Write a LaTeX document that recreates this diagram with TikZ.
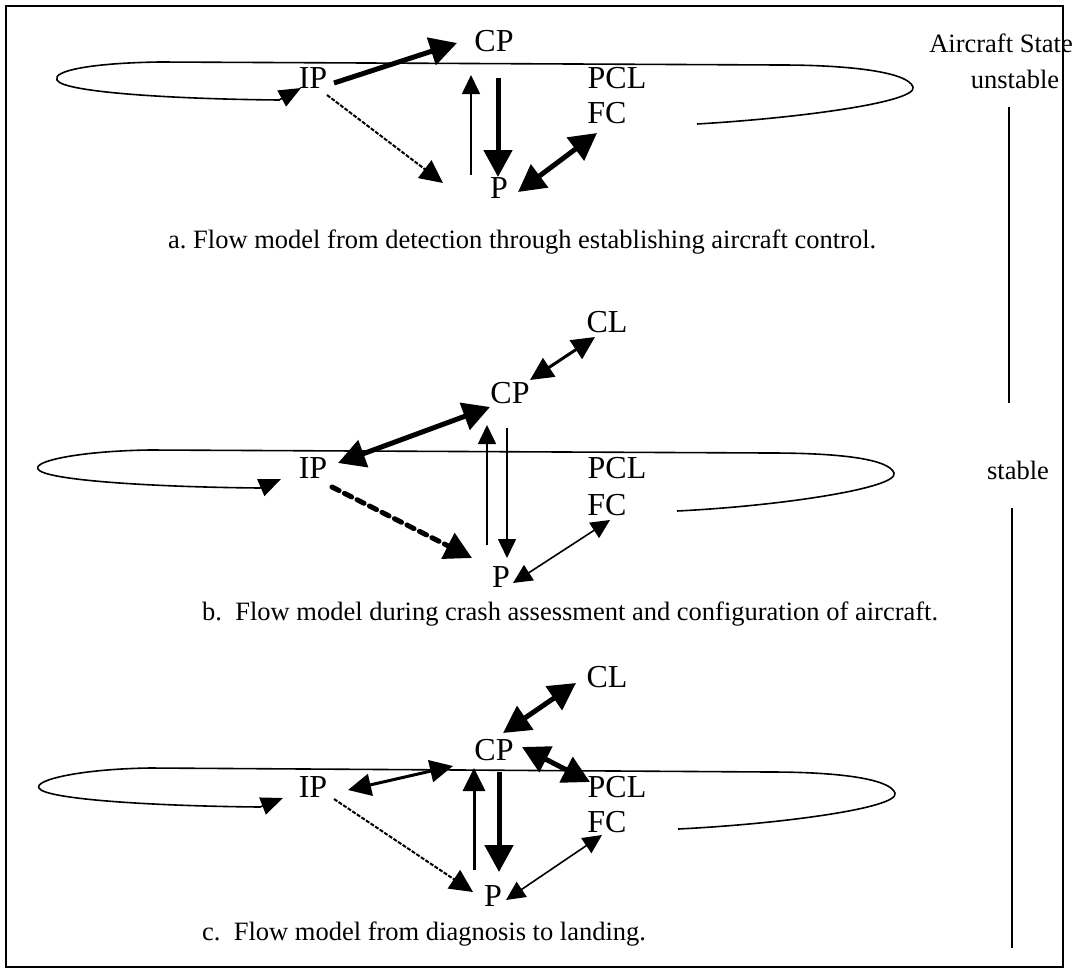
\documentclass[tikz,border=0pt]{standalone}
\usepackage{fontspec}
\setmainfont{Liberation Serif}
\usetikzlibrary{arrows.meta}

\tikzset{
  Bg/.tip={Triangle[length=27pt,width=28pt]},
  Md/.tip={Triangle[length=23pt,width=22pt]},
  Sm/.tip={Triangle[length=19pt,width=18pt]},
  Lp/.tip={Triangle[length=22pt,width=18pt]},
  lbl/.style={inner sep=0pt,font=\fontsize{32}{32}\selectfont},
  capt/.style={inner sep=0pt,anchor=base west,font=\fontsize{26.5}{30}\selectfont},
  sidetxt/.style={inner sep=0pt,anchor=base,font=\fontsize{26.5}{30}\selectfont},
  thk/.style={line width=5pt},
  med/.style={line width=3pt},
  thn/.style={line width=1.6pt},
  dot/.style={line width=2pt,dash pattern=on 4pt off 1.5pt},
  dsh/.style={line width=5pt,dash pattern=on 8pt off 6pt,line cap=round},
  orbit/.style={line width=1.6pt,-Lp},
}

\begin{document}
\begin{tikzpicture}[x=1pt,y=-1pt]
\useasboundingbox (0,0) rectangle (1086,972);
\draw[line width=1.5pt] (6,6) rectangle (1063,967);

\node[sidetxt] (state) at (1001,52) {Aircraft State};
\node[sidetxt] (unst) at (1015,88) {unstable};
\node[sidetxt] (stab) at (1018,479) {stable};
\draw[thn] ([shift={(-6,19)}]unst.base) -- ([shift={(-9,-76)}]stab.base);
\draw[thn] ([shift={(-6,29)}]stab.base) -- ([shift={(-6,469)}]stab.base);

\node[lbl] (cpa) at (494,41) {CP};
\node[lbl] (ipa) at (313,78) {IP};
\node[lbl] (pa) at (499,188) {P};
\node[lbl] (pcla) at (617,78) {PCL};
\node[lbl] (fca) at (607,113) {FC};
\draw[orbit] ([shift={(90,11)}]fca.center) .. controls (800,118) and (918,102) .. (913,87)
  .. controls (908,72) and (850,65) .. (780,65) -- (160,62)
  .. controls (90,63) and (52,71) .. (57,80) .. controls (62,92) and (170,99) .. (279,100)
  -- ([shift={(-12,10)}]ipa.center);
\draw[thk,-Bg] ([shift={(21,5)}]ipa.center) -- ([shift={(-37,2)}]cpa.center);
\draw[dot,-Md] ([shift={(14,17)}]ipa.center) -- ([shift={(-56,-5)}]pa.center);
\draw[thn,-Sm] ([shift={(-28,-13)}]pa.center) -- ([shift={(-23,34)}]cpa.center);
\draw[thk,-Bg] ([shift={(4,37)}]cpa.center) -- ([shift={(-1,-11)}]pa.center);
\draw[thk,Bg-Bg] ([shift={(19,4)}]pa.center) -- ([shift={(-10,20)}]fca.center);
\node[capt] (capa) at (168,248) {a.\ Flow model from detection through establishing aircraft control.};

\node[lbl] (clb) at (607,322) {CL};
\node[lbl] (cpb) at (510,393) {CP};
\node[lbl] (ipb) at (313,468) {IP};
\node[lbl] (pclb) at (617,468) {PCL};
\node[lbl] (fcb) at (607,505) {FC};
\node[lbl] (pb) at (501,577) {P};
\draw[orbit] ([shift={(70,6)}]fcb.center) .. controls (780,506) and (899,488) .. (894,473)
  .. controls (889,459) and (840,453) .. (770,453) -- (150,450)
  .. controls (80,451) and (33,461) .. (38,469) .. controls (43,480) and (150,487) .. (260,488)
  -- ([shift={(-32,11)}]ipb.center);
\draw[med,Md-Md] ([shift={(20,-13)}]cpb.center) -- ([shift={(-12,15)}]clb.center);
\draw[thk,Bg-Bg] ([shift={(-20,14)}]cpb.center) -- ([shift={(25,-5)}]ipb.center);
\draw[dsh,-Bg] ([shift={(19,19)}]ipb.center) -- ([shift={(-29,-19)}]pb.center);
\draw[thn,-Sm] ([shift={(-14,-32)}]pb.center) -- ([shift={(-23,32)}]cpb.center);
\draw[thn,-Sm] ([shift={(-3,35)}]cpb.center) -- ([shift={(6,-19)}]pb.center);
\draw[thn,Sm-Sm] ([shift={(12,6)}]pb.center) -- ([shift={(3,15)}]fcb.center);
\node[capt] (capb) at (202,620) {b.\ \ Flow model during crash assessment and configuration of aircraft.};

\node[lbl] (clc) at (607,677) {CL};
\node[lbl] (cpc) at (494,750) {CP};
\node[lbl] (ipc) at (313,787) {IP};
\node[lbl] (pclc) at (617,787) {PCL};
\node[lbl] (fcc) at (607,822) {FC};
\node[lbl] (pc) at (493,896) {P};
\draw[orbit] ([shift={(71,7)}]fcc.center) .. controls (780,824) and (900,808) .. (895,793)
  .. controls (890,779) and (840,772) .. (770,772) -- (150,768)
  .. controls (80,769) and (34,780) .. (39,788) .. controls (44,799) and (150,806) .. (260,807)
  -- ([shift={(-30,11)}]ipc.center);
\draw[thk,Bg-Bg] ([shift={(9,-17)}]cpc.center) -- ([shift={(-31,6)}]clc.center);
\draw[thk,Bg-Bg] ([shift={(28,-3)}]cpc.center) -- ([shift={(-27,-5)}]pclc.center);
\draw[med,Md-Md] ([shift={(35,3)}]ipc.center) -- ([shift={(-41,16)}]cpc.center);
\draw[med,-Md] ([shift={(-19,-26)}]pc.center) -- ([shift={(-20,18)}]cpc.center);
\draw[thk,-Bg] ([shift={(5,22)}]cpc.center) -- ([shift={(6,-24)}]pc.center);
\draw[dot,-Md] ([shift={(21,12)}]ipc.center) -- ([shift={(-20,-4)}]pc.center);
\draw[thn,Sm-Sm] ([shift={(13,4)}]pc.center) -- ([shift={(-5,13)}]fcc.center);
\node[capt] (capc) at (202,940) {c.\ \ Flow model from diagnosis to landing.};
\end{tikzpicture}
\end{document}
